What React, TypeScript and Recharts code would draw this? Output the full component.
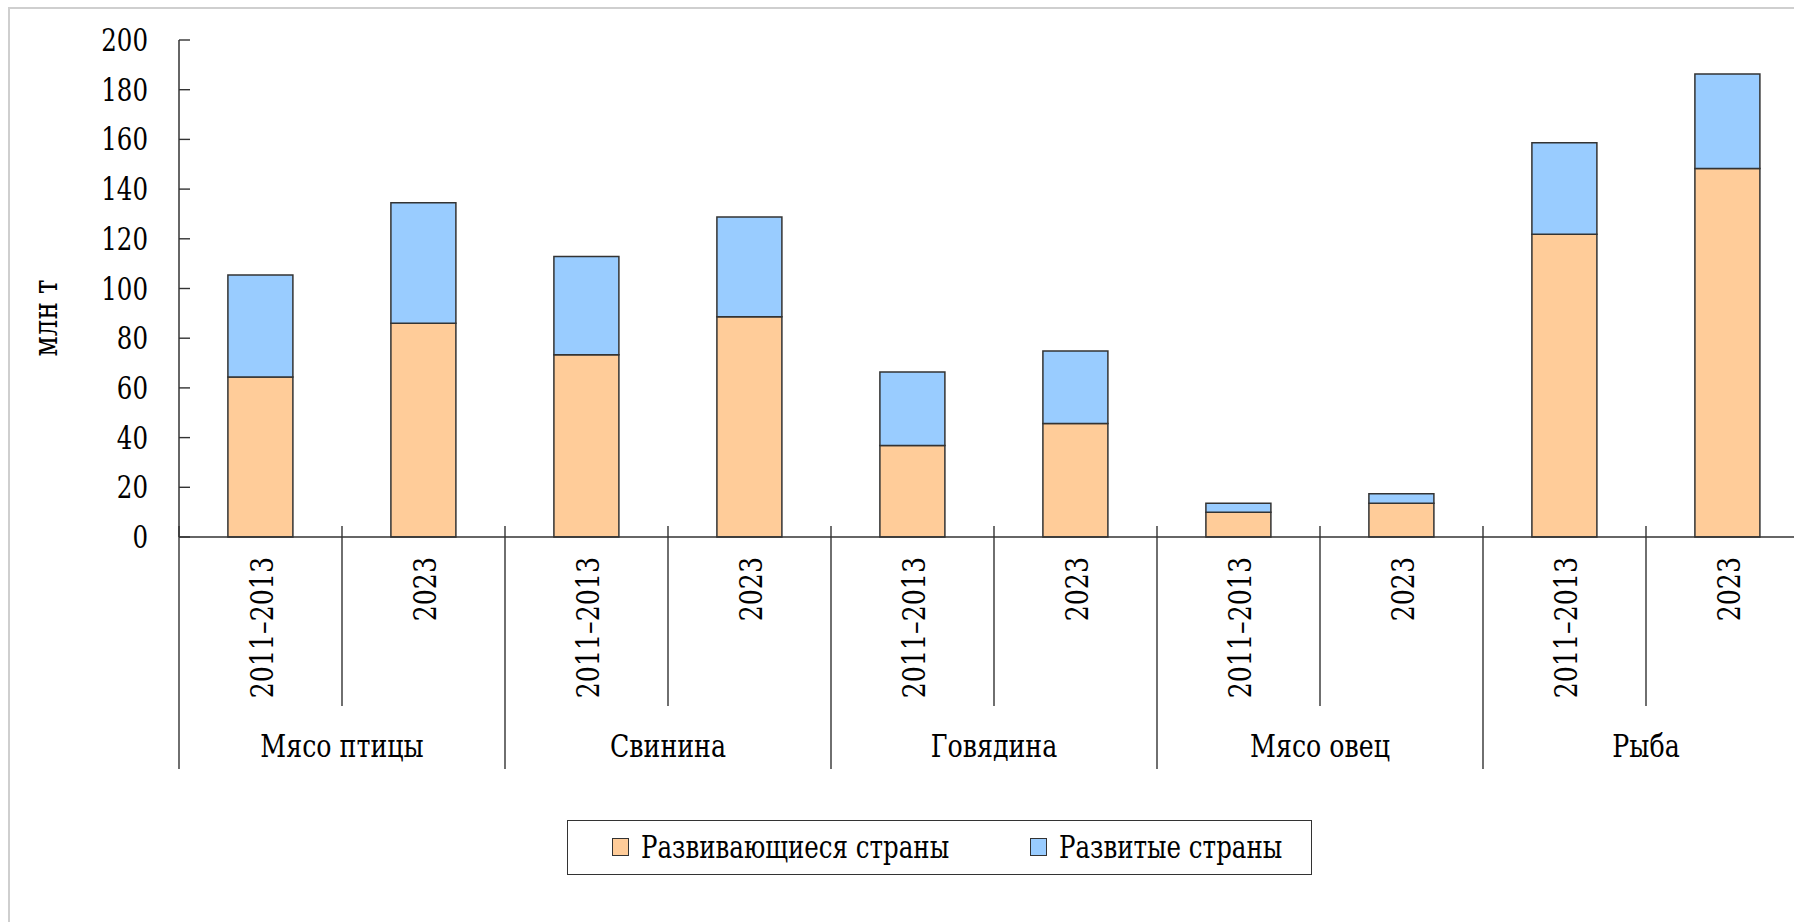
import { BarChart, Bar, XAxis, YAxis } from "recharts";

const periods = ["2011–2013", "2023", "2011–2013", "2023", "2011–2013", "2023", "2011–2013", "2023", "2011–2013", "2023"];
const groups = ["Мясо птицы", "Свинина", "Говядина", "Мясо овец", "Рыба"];
const developing = [64.4, 86.0, 73.3, 88.6, 36.8, 45.7, 10.0, 13.6, 121.8, 148.3];
const developed = [41.0, 48.5, 39.6, 40.2, 29.6, 29.1, 3.6, 3.8, 36.9, 38.0];
const yTicks = [0, 20, 40, 60, 80, 100, 120, 140, 160, 180, 200];
const seriesNames = ["Развивающиеся страны", "Развитые страны"];
const colors = ["#FFCC99", "#99CCFF"];

// serif face, squeezed sideways so it sits like the narrow Times of the original
const FONT = '"DejaVu Serif", "Liberation Serif", serif';
const SQ = 0.79;
const INK = "#333";
const CHART_W = 1812;
const CHART_H = 922;
const Y_W = 179;
const M_RIGHT = 3;
const SLOT = (CHART_W - Y_W - M_RIGHT) / periods.length;

const data = periods.map((p, i) => ({
  id: `${groups[Math.floor(i / 2)]} ${p}`,
  period: p,
  group: groups[Math.floor(i / 2)],
  developing: developing[i],
  developed: developed[i],
}));

function SText({ x, y, rotate = 0, size, anchor = "start", dy = 0, children }: any) {
  return (
    <text
      transform={`translate(${x} ${y}) rotate(${rotate}) scale(${SQ} 1)`}
      x={0}
      y={0}
      dy={dy}
      textAnchor={anchor}
      fontFamily={FONT}
      fontSize={size}
      fill="#000"
    >
      {children}
    </text>
  );
}

function XTick({ x, y, index }: any) {
  const row = data[index];
  if (!row) return null;
  const left = x - SLOT / 2;
  const major = index % 2 === 0;
  return (
    <g>
      <line x1={left} x2={left} y1={y - 11} y2={y + (major ? 232 : 169)} stroke={INK} strokeWidth={1.4} />
      <SText x={x} y={y + 20} rotate={-90} dy={12} size={32} anchor="end">
        {row.period}
      </SText>
      {major && (
        <SText x={x + SLOT / 2} y={y + 220} size={32} anchor="middle">
          {row.group}
        </SText>
      )}
    </g>
  );
}

function YTick({ x, y, payload }: any) {
  return (
    <g>
      <line x1={x} x2={x + 11} y1={y} y2={y} stroke={INK} strokeWidth={1.4} />
      <SText x={x - 31} y={y} dy={11} size={31} anchor="end">
        {payload.value}
      </SText>
    </g>
  );
}

function Swatch({ color }: { color: string }) {
  return (
    <span
      style={{
        display: "inline-block",
        width: 15,
        height: 16,
        background: color,
        border: `1.5px solid ${INK}`,
        marginRight: 12,
        flex: "none",
      }}
    />
  );
}

export default function App() {
  return (
    <div style={{ position: "relative", width: 1794, height: 922, overflow: "hidden", background: "#fff" }}>
      <style>{`body{margin:0}`}</style>
      <div
        style={{
          position: "absolute",
          left: 8,
          top: 7,
          right: -10,
          bottom: -10,
          borderLeft: "2px solid #cfcfcf",
          borderTop: "2px solid #cfcfcf",
        }}
      />
      <div style={{ position: "absolute", left: 0, top: 0 }}>
        <BarChart
          width={CHART_W}
          height={CHART_H}
          data={data}
          margin={{ top: 40, right: M_RIGHT, bottom: 0, left: 0 }}
          barCategoryGap="30%"
        >
          <XAxis
            dataKey="id"
            height={385}
            interval={0}
            tickLine={false}
            tickSize={0}
            tickMargin={0}
            axisLine={{ stroke: INK, strokeWidth: 1.5 }}
            tick={(p: any) => <XTick {...p} />}
          />
          <YAxis
            width={Y_W}
            domain={[0, 200]}
            ticks={yTicks}
            interval={0}
            tickLine={false}
            tickSize={0}
            tickMargin={0}
            axisLine={{ stroke: INK, strokeWidth: 1.5 }}
            tick={(p: any) => <YTick {...p} />}
            label={{
              content: () => (
                <SText x={46} y={318} rotate={-90} dy={11} size={33} anchor="middle">
                  млн т
                </SText>
              ),
            }}
          />
          <Bar dataKey="developing" name={seriesNames[0]} stackId="a" fill={colors[0]} stroke={INK} strokeWidth={1.5} isAnimationActive={false} />
          <Bar dataKey="developed" name={seriesNames[1]} stackId="a" fill={colors[1]} stroke={INK} strokeWidth={1.5} isAnimationActive={false} />
        </BarChart>
      </div>
      <div
        style={{
          position: "absolute",
          left: 567,
          top: 820,
          width: 745,
          height: 55,
          boxSizing: "border-box",
          border: `1.5px solid ${INK}`,
          background: "#fff",
          fontFamily: FONT,
          fontSize: 31,
          color: "#000",
        }}
      >
        {seriesNames.map((n, i) => (
          <div
            key={n}
            style={{
              position: "absolute",
              left: i === 0 ? 44 : 462,
              top: 0,
              height: 52,
              display: "flex",
              alignItems: "center",
              whiteSpace: "nowrap",
            }}
          >
            <Swatch color={colors[i]} />
            <span style={{ display: "inline-block", transform: `scaleX(${SQ})`, transformOrigin: "left center" }}>{n}</span>
          </div>
        ))}
      </div>
    </div>
  );
}
